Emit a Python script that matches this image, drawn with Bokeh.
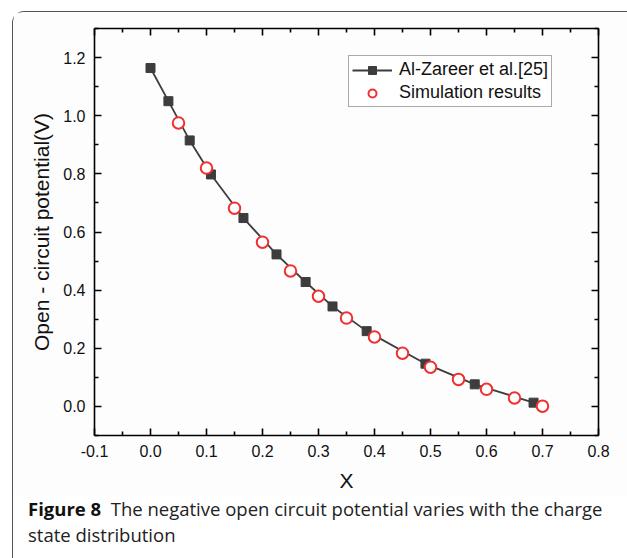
from bokeh.plotting import figure
from bokeh.layouts import column
from bokeh.models import (Range1d, LinearAxis, FixedTicker, NumeralTickFormatter,
                          Legend, LegendItem, Div, CustomLabelingPolicy)
from bokeh.embed import file_html
from bokeh.resources import INLINE

# ---- data ----
ref_x = [0.0, 0.032, 0.070, 0.108, 0.166, 0.225, 0.277, 0.325, 0.386, 0.491, 0.579, 0.684]
ref_y = [1.164, 1.050, 0.915, 0.798, 0.648, 0.523, 0.428, 0.344, 0.259, 0.147, 0.076, 0.013]
sim_x = [0.05, 0.10, 0.15, 0.20, 0.25, 0.30, 0.35, 0.40, 0.45, 0.50, 0.55, 0.60, 0.65, 0.70]
sim_y = [0.975, 0.820, 0.682, 0.565, 0.466, 0.379, 0.304, 0.239, 0.183, 0.135, 0.093, 0.059, 0.029, 0.001]

x_ticks = [-0.1, 0.0, 0.1, 0.2, 0.3, 0.4, 0.5, 0.6, 0.7, 0.8]
x_minor = [-0.05, 0.05, 0.15, 0.25, 0.35, 0.45, 0.55, 0.65, 0.75]
y_ticks = [0.0, 0.2, 0.4, 0.6, 0.8, 1.0, 1.2]
y_minor = [-0.1, 0.1, 0.3, 0.5, 0.7, 0.9, 1.1, 1.3]

ref_label = "Al-Zareer et al.[25]"
sim_label = "Simulation results"
x_title = "X"
y_title = "Open - circuit potential(V)"
cap_bold = "Figure 8"
cap_line1 = "The negative open circuit potential varies with the charge"
cap_line2 = "state distribution"

AX_FONT = "Liberation Sans"
CAP_FONT = "Open Sans"

p = figure(width=614, height=483, output_backend="svg", toolbar_location=None,
           x_range=Range1d(-0.1, 0.8), y_range=Range1d(-0.1, 1.3),
           x_axis_location=None, y_axis_location=None,
           min_border_left=81, min_border_right=29, min_border_top=16, min_border_bottom=60)
p.grid.visible = False
p.outline_line_color = None
p.background_fill_color = "#fdfdfd"
p.border_fill_color = "#fdfdfd"

hide_all = CustomLabelingPolicy(code="for (const i of indices) { indices.unset(i) } return indices")


def make_axis(ticks, minor, show_labels, label=None):
    ax = LinearAxis(ticker=FixedTicker(ticks=ticks, minor_ticks=minor),
                    formatter=NumeralTickFormatter(format="0.0"))
    ax.axis_line_color = "black"
    ax.axis_line_width = 1.6
    ax.major_tick_line_color = "black"
    ax.major_tick_line_width = 1.6
    ax.minor_tick_line_color = "black"
    ax.minor_tick_line_width = 1.6
    ax.major_tick_in = 7
    ax.major_tick_out = 0
    ax.minor_tick_in = 4
    ax.minor_tick_out = 0
    if show_labels:
        ax.major_label_text_font = AX_FONT
        ax.major_label_text_font_size = "16px"
        ax.major_label_text_color = "#111111"
        ax.major_label_standoff = 9
    else:
        ax.major_label_text_font_size = "1px"
        ax.major_label_standoff = 0
        ax.major_label_policy = hide_all
    if label is not None:
        ax.axis_label = label
        ax.axis_label_text_font = AX_FONT
        ax.axis_label_text_font_size = "21px"
        ax.axis_label_text_font_style = "normal"
        ax.axis_label_text_color = "#111111"
    return ax


xb = make_axis(x_ticks, x_minor, True, x_title)
xb.axis_label_standoff = 9
yl = make_axis(y_ticks, y_minor, True, y_title)
yl.axis_label_standoff = 7
xt = make_axis(x_ticks, x_minor, False)
yr = make_axis(y_ticks, y_minor, False)
p.add_layout(xb, "below")
p.add_layout(yl, "left")
p.add_layout(xt, "above")
p.add_layout(yr, "right")

line_r = p.line(ref_x, ref_y, line_color="#3d3d3d", line_width=1.8)
sq_r = p.scatter(ref_x, ref_y, marker="square", size=9, fill_color="#3d3d3d", line_color="#3d3d3d")
ci_r = p.scatter(sim_x, sim_y, marker="circle", size=11.5, fill_color="white",
                 line_color="#f03030", line_width=2)

legend = Legend(items=[LegendItem(label=ref_label, renderers=[line_r, sq_r]),
                       LegendItem(label=sim_label, renderers=[ci_r])],
                location=(254, 328))
legend.label_text_font = AX_FONT
legend.label_text_font_size = "18px"
legend.label_text_color = "#111111"
legend.glyph_width = 40
legend.glyph_height = 20
legend.label_height = 20
legend.label_standoff = 7
legend.padding = 3
legend.spacing = 2
legend.margin = 0
legend.border_line_color = "#555555"
legend.border_line_width = 1
legend.background_fill_color = "white"
legend.background_fill_alpha = 1.0
p.add_layout(legend, "center")

caption = Div(
    text=(f'<div style="font-family:\'{CAP_FONT}\';font-size:18.5px;line-height:26px;'
          f'color:#222;padding-left:15px;padding-top:1px;white-space:nowrap">'
          f'<b style="color:#111">{cap_bold}</b>&nbsp; {cap_line1}<br>{cap_line2}</div>'),
    width=614, height=63, margin=0)

root = column(p, caption, spacing=0, margin=(11, 0, 0, 12),
              styles={"border-top": "1.2px solid #555", "border-left": "1.2px solid #555",
                      "border-top-left-radius": "12px", "background-color": "white"})

open("out.html", "w").write(file_html(root, INLINE))
